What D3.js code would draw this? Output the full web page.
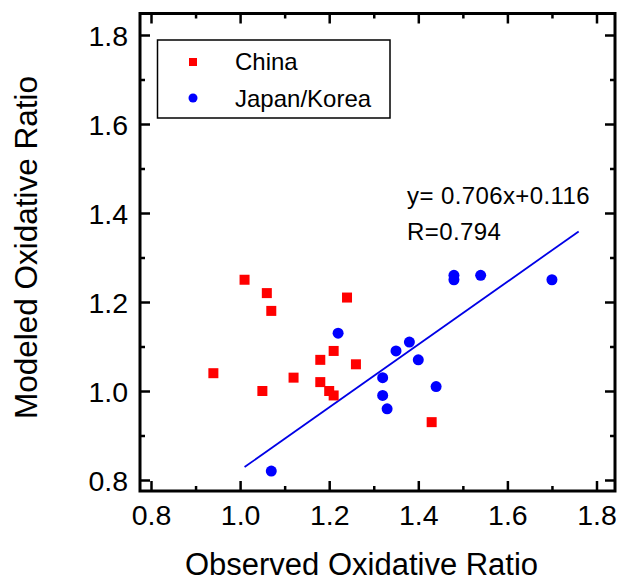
<!DOCTYPE html>
<html><head><meta charset="utf-8">
<script src="https://cdn.jsdelivr.net/npm/d3@7"></script>
<style>body{margin:0;background:#fff}svg{display:block}text{font-family:"Liberation Sans",Arial,sans-serif;fill:#000}</style>
</head><body>
<svg id="c" width="622" height="582"></svg>
<script>
const chinaX = [1.01,1.06,1.07,1.24,1.21,1.18,1.26,0.94,1.12,1.18,1.05,1.20,1.21,1.43];
const chinaY = [1.25,1.22,1.18,1.21,1.09,1.07,1.06,1.04,1.03,1.02,1.00,1.00,0.99,0.93];
const jkX = [1.22,1.35,1.32,1.32,1.33,1.38,1.40,1.44,1.48,1.48,1.54,1.70,1.07];
const jkY = [1.13,1.09,1.03,0.99,0.96,1.11,1.07,1.01,1.25,1.26,1.26,1.25,0.82];
const majorTicks = [0.8,1.0,1.2,1.4,1.6,1.8];
const minorTicks = [0.9,1.1,1.3,1.5,1.7];
const fitSlope = 0.706, fitIntercept = 0.116, fitR = 0.794;
const fitRange = [1.01,1.76];
const seriesNames = ["China","Japan/Korea"];
const xTitle = "Observed Oxidative Ratio", yTitle = "Modeled Oxidative Ratio";

const svg = d3.select("#c");
const L=140, R=615, T=13.5, B=491;
const x = d3.scaleLinear().domain([0.8,1.8]).range([151,596.5]);
const y = d3.scaleLinear().domain([0.8,1.8]).range([480,35]);
const fmt = d3.format(".1f");

function axis(gen, tr, ticks, size, labels){
  const g = svg.append("g").attr("transform",tr)
    .call(gen.tickValues(ticks).tickSize(size).tickFormat(labels?fmt:"").tickPadding(0));
  g.select(".domain").remove();
  g.selectAll(".tick line").attr("stroke","#000").attr("stroke-width",2.5);
  return g;
}
// bottom
const gb = axis(d3.axisBottom(x), `translate(0,${B})`, majorTicks, -10, true);
gb.selectAll(".tick text").attr("y",34).attr("dy",0).style("font-size","28.5px");
axis(d3.axisBottom(x), `translate(0,${B})`, minorTicks, -5, false);
// top
axis(d3.axisTop(x), `translate(0,${T})`, majorTicks, -10, false);
axis(d3.axisTop(x), `translate(0,${T})`, minorTicks, -5, false);
// left
const gl = axis(d3.axisLeft(y), `translate(${L},0)`, majorTicks, -10, true);
gl.selectAll(".tick text").attr("x",-12).attr("dy","0.36em").style("font-size","28.5px");
axis(d3.axisLeft(y), `translate(${L},0)`, minorTicks, -5, false);
// right
axis(d3.axisRight(y), `translate(${R},0)`, majorTicks, -10, false);
axis(d3.axisRight(y), `translate(${R},0)`, minorTicks, -5, false);
svg.selectAll(".tick text").attr("fill","#000").style("font-family",'"Liberation Sans",Arial,sans-serif');

svg.append("rect").attr("x",L).attr("y",T).attr("width",R-L).attr("height",B-T)
  .attr("fill","none").attr("stroke","#000").attr("stroke-width",3);

// fit line
svg.append("line")
  .attr("x1",x(fitRange[0])).attr("y1",y(fitSlope*fitRange[0]+fitIntercept))
  .attr("x2",x(fitRange[1])).attr("y2",y(fitSlope*fitRange[1]+fitIntercept))
  .attr("stroke","#0000e6").attr("stroke-width",1.8);

// points
const sq = 10;
svg.append("g").selectAll("rect").data(chinaX.map((v,i)=>[v,chinaY[i]])).join("rect")
  .attr("x",d=>x(d[0])-sq/2).attr("y",d=>y(d[1])-sq/2).attr("width",sq).attr("height",sq).attr("fill","#ff0000");
svg.append("g").selectAll("circle").data(jkX.map((v,i)=>[v,jkY[i]])).join("circle")
  .attr("cx",d=>x(d[0])).attr("cy",d=>y(d[1])).attr("r",5.5).attr("fill","#0000ff");

// annotation
svg.append("text").attr("x",407).attr("y",204).style("font-size","24px").style("letter-spacing","0.4px")
  .text(`y= ${fitSlope}x+${fitIntercept}`);
svg.append("text").attr("x",407).attr("y",240).style("font-size","24px").style("letter-spacing","0.4px")
  .text(`R=${fitR}`);

// legend
svg.append("rect").attr("x",157.5).attr("y",40).attr("width",232.5).attr("height",78)
  .attr("fill","#fff").attr("stroke","#000").attr("stroke-width",1.5);
svg.append("rect").attr("x",193-4).attr("y",62-4).attr("width",8).attr("height",8).attr("fill","#ff0000");
svg.append("circle").attr("cx",193).attr("cy",98).attr("r",4.5).attr("fill","#0000ff");
svg.append("text").attr("x",235).attr("y",70).style("font-size","24px").text(seriesNames[0]);
svg.append("text").attr("x",235).attr("y",107).style("font-size","24px").text(seriesNames[1]);

// titles
svg.append("text").attr("x",361.5).attr("y",575).attr("text-anchor","middle").style("font-size","31px").text(xTitle);
svg.append("text").attr("transform","translate(37,247.5) rotate(-90)").attr("text-anchor","middle").style("font-size","31.5px").text(yTitle);
</script>
</body></html>
